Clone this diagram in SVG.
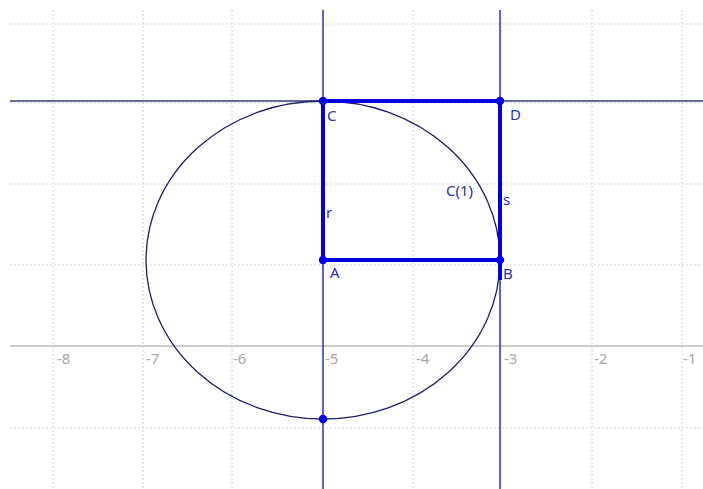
<svg xmlns="http://www.w3.org/2000/svg" width="703" height="489" viewBox="0 0 703 489">
<style>
.grid{stroke:#c4c4c4;stroke-width:1;stroke-dasharray:1.5 2.5;fill:none}
.axis{stroke:#9a9a9a;stroke-width:1.2}
.tick{font-family:"Noto Sans","Open Sans",sans-serif;font-size:15px;fill:#a8a8a8}
.thin{stroke:#3333a8;stroke-width:1.5;fill:none}
.hline{stroke:#36367a;stroke-width:1.5;fill:none}
.circ{stroke:#1e1e66;stroke-width:1.3;fill:none}
.seg{stroke:#0000e0;stroke-width:4;stroke-linecap:butt;fill:none}
.pt{fill:#0000e0}
.lbl{font-family:"Noto Sans","Open Sans",sans-serif;font-size:15px;fill:#3030a8}
</style>
<rect width="703" height="489" fill="#ffffff"/>
<g id="grid">
<path class="grid" d="M10 24H703M10 103H703M10 184H703M10 265H703M10 428H703"/>
<path class="grid" d="M53 10V489M143 10V489M232 10V489M323 10V489M413 10V489M501 10V489M592 10V489M682 10V489"/>
<line class="axis" x1="10" y1="346" x2="703" y2="346"/>
<text class="tick" x="57" y="364">-8</text>
<text class="tick" x="146" y="364">-7</text>
<text class="tick" x="233" y="364">-6</text>
<text class="tick" x="325" y="364">-5</text>
<text class="tick" x="416" y="364">-4</text>
<text class="tick" x="504" y="364">-3</text>
<text class="tick" x="594" y="364">-2</text>
<text class="tick" x="683" y="364">-1</text>
</g>
<g id="connectors">
<line class="thin" x1="323" y1="10" x2="323" y2="489"/>
<line class="thin" x1="500" y1="10" x2="500" y2="489"/>
<line class="hline" x1="10" y1="101" x2="703" y2="101"/>
<ellipse id="C1" class="circ" cx="323" cy="260" rx="177" ry="159"/>
<line id="segCD" class="seg" x1="323" y1="101" x2="500" y2="101"/>
<line id="segr" class="seg" x1="323" y1="101" x2="323" y2="260"/>
<line id="segAB" class="seg" x1="323" y1="260" x2="500" y2="260"/>
<line id="segs" class="seg" x1="500" y1="101" x2="500" y2="280"/>
</g>
<g id="C"><circle class="pt" cx="323" cy="101" r="4.2"/><text class="lbl" x="327" y="121">C</text></g>
<g id="D"><circle class="pt" cx="500" cy="101" r="4.2"/><text class="lbl" x="510" y="120">D</text></g>
<g id="A"><circle class="pt" cx="323" cy="260" r="4.2"/><text class="lbl" x="330" y="278">A</text></g>
<g id="B"><circle class="pt" cx="500" cy="260" r="4.2"/><text class="lbl" x="503" y="279">B</text></g>
<g id="E"><circle class="pt" cx="323" cy="419" r="4.2"/></g>
<g id="labels">
<text class="lbl" x="446" y="196">C(1)</text>
<text class="lbl" x="326" y="218">r</text>
<text class="lbl" x="503" y="205">s</text>
</g>
</svg>
